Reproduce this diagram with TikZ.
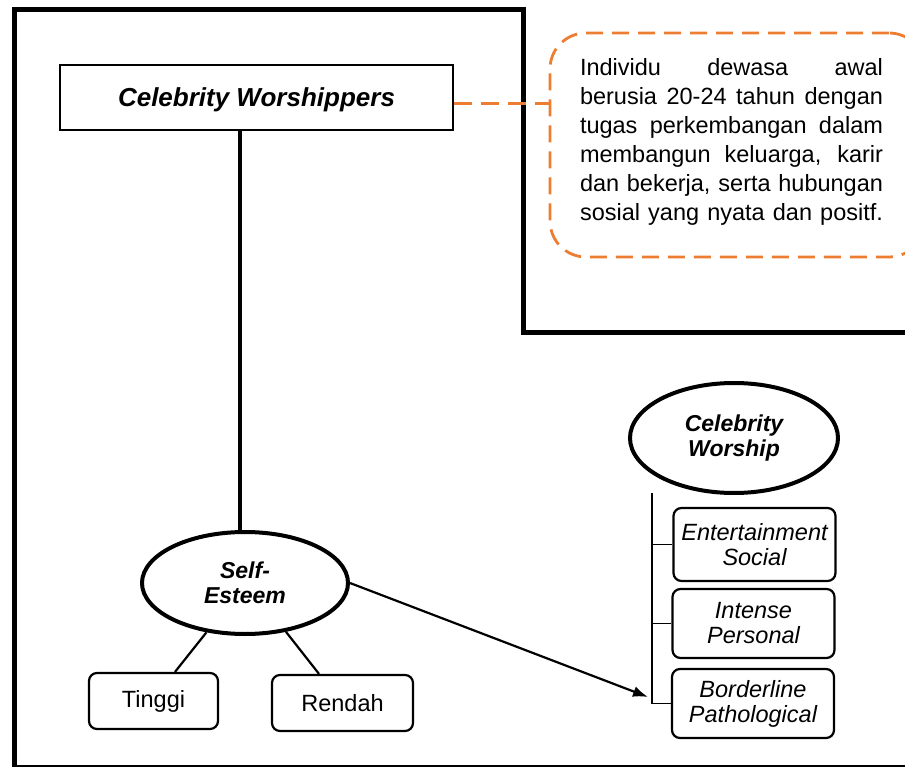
\documentclass[tikz,border=0pt]{standalone}
\usepackage{fontspec}
\setmainfont{Liberation Sans}
\usetikzlibrary{shapes.geometric,arrows.meta}
\definecolor{calloutorange}{HTML}{ED7D31}
\definecolor{baseline}{HTML}{555555}
\begin{document}
\begin{tikzpicture}[x=1pt,y=-1pt,
  frameline/.style={line width=5pt, line join=miter},
  titlebox/.style={draw, line width=2.8pt, minimum width=393pt, minimum height=65pt, inner sep=0pt,
    font=\fontsize{26}{30}\selectfont\bfseries\itshape},
  oval/.style={ellipse, draw, line width=4pt, align=center, inner sep=0pt,
    font=\fontsize{23}{25.5}\selectfont\bfseries\itshape},
  levelbox/.style={draw, rounded corners=8pt, line width=2.2pt, align=center, inner sep=0pt,
    font=\fontsize{23.5}{25}\selectfont},
  typebox/.style={levelbox, font=\fontsize{23.5}{25}\selectfont\itshape, minimum width=162pt},
  callout/.style={draw=calloutorange, line width=2.8pt, dash pattern=on 17pt off 9pt,
    rounded corners=36pt, minimum width=375pt, minimum height=224pt, inner sep=0pt},
  callouttext/.style={align=center, inner sep=0pt, font=\fontsize{23.5}{29}\selectfont},
  thinlink/.style={line width=2.2pt},
  spine/.style={line width=1.3pt}
]
\useasboundingbox (0,0) rectangle (905,767);
\clip (0,0) rectangle (905,767);

% frame
\draw[frameline] (14.5,767) -- (14.5,10) -- (523,10) -- (523,333) -- (905,333);
\draw[baseline, line width=1.2pt] (14,766) -- (905,766);

% callout
\node[callout] (callout) at (737.5,145) {};
\node[callouttext] (ctext) at (731.5,142) {%
\makebox[303pt][s]{Individu dewasa awal}\\
\makebox[303pt][s]{berusia 20-24 tahun dengan}\\
\makebox[303pt][s]{tugas perkembangan dalam}\\
\makebox[303pt][s]{membangun keluarga, karir}\\
\makebox[303pt][s]{dan bekerja, serta hubungan}\\
\makebox[303pt][s]{sosial yang nyata dan positf.}};

% title box
\node[titlebox] (cw) at (256.5,97.5) {\raisebox{-9.5pt}[0pt][0pt]{Celebrity Worshippers}};
\draw[calloutorange, line width=3pt, dash pattern=on 18pt off 9pt]
  (cw.east |- 0,104) -- (callout.west |- 0,104);

% self-esteem
\node[oval, minimum width=206pt, minimum height=102pt] (se) at (245,583) {Self-\\Esteem};
\draw[line width=3.5pt] (cw.south -| 240,0) -- (se.north -| 240,0);

\node[levelbox, minimum width=129pt, minimum height=56pt] (tg) at (153.5,701) {Tinggi};
\node[levelbox, minimum width=141pt, minimum height=56pt] (rd) at (342.5,703) {Rendah};
\draw[thinlink] (se.232) -- (tg.north -| 175,0);
\draw[thinlink] (se.310) -- (rd.north -| 319,0);

% celebrity worship
\node[oval, minimum width=208pt, minimum height=110pt] (cwo) at (734,438) {Celebrity\\Worship};
\node[typebox, minimum height=73pt] (es) at (754.5,544.5) {Entertainment\\Social};
\node[typebox, minimum height=69pt] (ip) at (753.5,623.5) {Intense\\Personal};
\node[typebox, minimum height=69pt] (bp) at (753,703.5) {Borderline\\Pathological};

\coordinate (btop) at (652,493);
\draw[spine] (btop) |- (es.west);
\draw[spine] (btop) |- (ip.west);
\draw[spine] (btop) |- (bp.west);

\coordinate (arrowend) at (648,697);
\draw[thinlink, -{Latex[length=15pt,width=11pt]}] (se.east) -- (arrowend);
\end{tikzpicture}
\end{document}
